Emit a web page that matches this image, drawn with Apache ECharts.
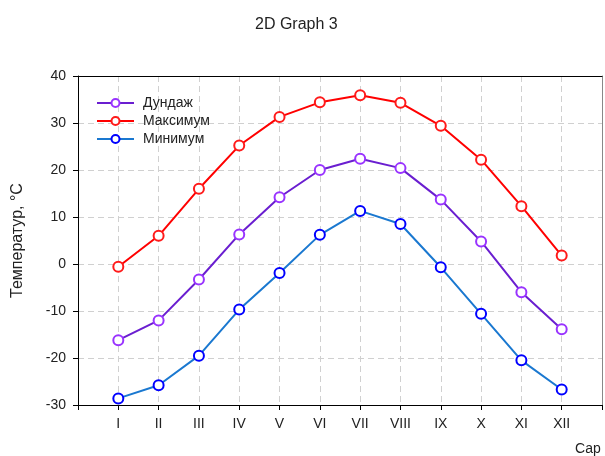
<!DOCTYPE html>
<html>
<head>
<meta charset="utf-8">
<script src="https://cdn.jsdelivr.net/npm/echarts@6/dist/echarts.min.js"></script>
<style>
  html, body { margin: 0; padding: 0; background: #fff; }
  #main { width: 605px; height: 456px; }
</style>
</head>
<body>
<div id="main"></div>
<script>
// month labels (roman numerals)
var months = ['I', 'II', 'III', 'IV', 'V', 'VI', 'VII', 'VIII', 'IX', 'X', 'XI', 'XII'];
var avgTemp = [-16.2, -12.0, -3.3, 6.3, 14.2, 20.0, 22.4, 20.4, 13.7, 4.8, -6.0, -13.9];
var maxTemp = [-0.6, 6.0, 16.0, 25.2, 31.3, 34.4, 35.9, 34.3, 29.4, 22.2, 12.3, 1.8];
var minTemp = [-28.6, -25.8, -19.5, -9.7, -1.9, 6.2, 11.3, 8.5, -0.7, -10.6, -20.5, -26.7];
var yTicks = [-30, -20, -10, 0, 10, 20, 30, 40];

function toPoints(arr) {
    return arr.map(function (v, i) { return [i + 1, v]; });
}

var chart = echarts.init(document.getElementById('main'));
var font = 'Liberation Sans, Arial, sans-serif';

var option = {
    animation: false,
    title: {
        text: '2D Graph 3',
        left: 250,
        top: 12,
        textStyle: { fontFamily: font, fontSize: 16, fontWeight: 'normal', color: '#222' }
    },
    legend: {
        orient: 'vertical',
        left: 96,
        top: 96,
        padding: 0,
        itemWidth: 37,
        itemHeight: 10,
        itemGap: 4,
        textStyle: { fontFamily: font, fontSize: 14, color: '#222', padding: [0, 0, 0, 4] },
        data: ['Дундаж', 'Максимум', 'Минимум']
    },
    grid: {
        left: 78,
        right: 3,
        top: 76,
        bottom: 50,
        show: true,
        borderWidth: 0
    },
    xAxis: [{
        type: 'value',
        min: 0,
        max: 13,
        interval: 1,
        name: 'Сар',
        nameLocation: 'end',
        nameGap: -27,
        nameTextStyle: {
            fontFamily: font, fontSize: 14, color: '#222',
            align: 'left', verticalAlign: 'top', padding: [37, 0, 0, 0]
        },
        axisLine: { onZero: false, lineStyle: { color: '#000', width: 1 } },
        axisTick: { show: true, length: 5, lineStyle: { color: '#000' } },
        axisLabel: {
            fontFamily: font, fontSize: 14, color: '#222', margin: 12,
            formatter: function (v) { return months[v - 1] || ''; }
        },
        splitLine: { show: true, lineStyle: { color: '#d0d0d0', type: [6, 4] } }
    }, {
        type: 'value',
        position: 'top',
        min: 0,
        max: 13,
        axisLine: { show: true, onZero: false, lineStyle: { color: '#000' } },
        axisTick: { show: false },
        axisLabel: { show: false },
        splitLine: { show: false }
    }],
    yAxis: [{
        type: 'value',
        min: yTicks[0],
        max: yTicks[yTicks.length - 1],
        interval: 10,
        name: 'Температур, °C',
        nameLocation: 'middle',
        nameRotate: 90,
        nameGap: 52,
        nameTextStyle: { fontFamily: font, fontSize: 16, color: '#222' },
        axisLine: { show: true, onZero: false, lineStyle: { color: '#000' } },
        axisTick: { show: true, length: 5, lineStyle: { color: '#000' } },
        axisLabel: { fontFamily: font, fontSize: 14, color: '#222', margin: 12 },
        splitLine: { show: true, lineStyle: { color: '#d0d0d0', type: [6, 4] } }
    }, {
        type: 'value',
        position: 'right',
        min: yTicks[0],
        max: yTicks[yTicks.length - 1],
        axisLine: { show: true, onZero: false, lineStyle: { color: '#888' } },
        axisTick: { show: false },
        axisLabel: { show: false },
        splitLine: { show: false }
    }],
    series: [{
        name: 'Дундаж',
        type: 'line',
        data: toPoints(avgTemp),
        symbol: 'emptyCircle',
        symbolSize: 10,
        lineStyle: { color: '#6a1ed0', width: 2 },
        itemStyle: { color: '#9933ff', borderWidth: 1.5 }
    }, {
        name: 'Максимум',
        type: 'line',
        data: toPoints(maxTemp),
        symbol: 'emptyCircle',
        symbolSize: 10,
        lineStyle: { color: '#ff0000', width: 2 },
        itemStyle: { color: '#ff1a1a', borderWidth: 1.5 }
    }, {
        name: 'Минимум',
        type: 'line',
        data: toPoints(minTemp),
        symbol: 'emptyCircle',
        symbolSize: 10,
        lineStyle: { color: '#1a78d0', width: 2 },
        itemStyle: { color: '#0000ff', borderWidth: 1.5 }
    }]
};

chart.setOption(option);
</script>
</body>
</html>
